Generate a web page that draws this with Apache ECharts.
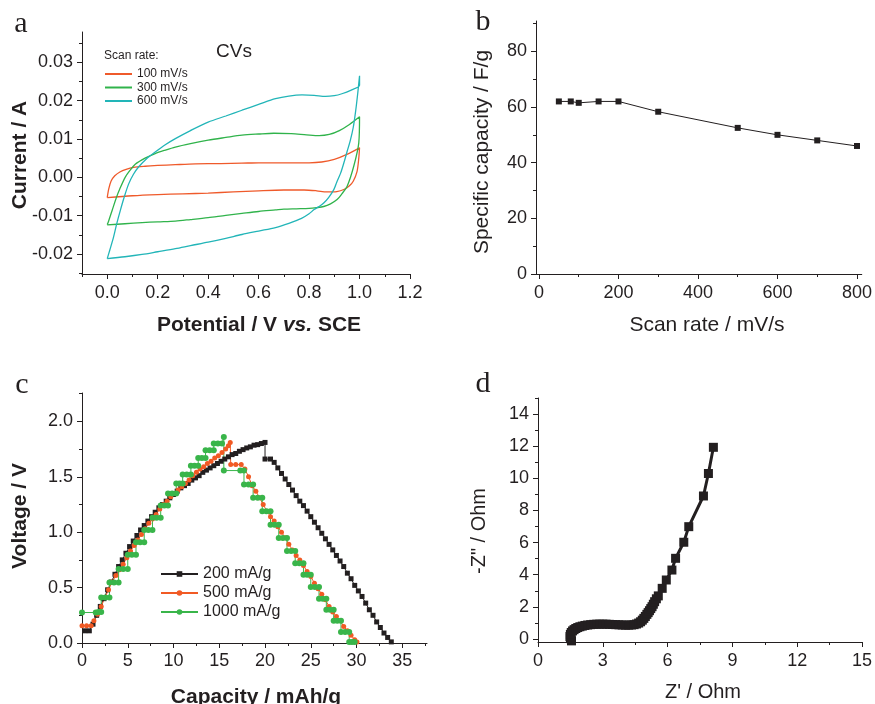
<!DOCTYPE html>
<html>
<head>
<meta charset="utf-8">
<script src="https://cdn.jsdelivr.net/npm/echarts@6/dist/echarts.min.js"></script>
<style>
html, body { margin: 0; padding: 0; background: #fff; }
#main { width: 875px; height: 704px; }
</style>
</head>
<body>
<div id="main"></div>
<script>
// panel a: CVs, [potential V, current A]
var cv100 = [[0.0,-0.0053],[0.006,-0.0030],[0.015,-0.0010],[0.03,0.0004],[0.05,0.0014],[0.075,0.0021],[0.104,0.0026],[0.15,0.0029],[0.2,0.0031],[0.27,0.0033],[0.35,0.0035],[0.45,0.0036],[0.534,0.0037],[0.6,0.0038],[0.7,0.0038],[0.8,0.0038],[0.85,0.0040],[0.9,0.0047],[0.95,0.0060],[1.0,0.0077],
  [0.997,0.0050],[0.99,0.0015],[0.975,-0.0010],[0.96,-0.0022],[0.94,-0.0031],[0.91,-0.0037],[0.87,-0.0038],[0.83,-0.0035],[0.78,-0.0033],[0.7,-0.0033],[0.6,-0.0035],[0.5,-0.0038],[0.4,-0.0041],[0.3,-0.0043],[0.2,-0.0045],[0.1,-0.0048],[0.0,-0.0053]];
var cv300 = [[0.0,-0.0123],[0.005,-0.0115],[0.02,-0.0085],[0.035,-0.0055],[0.05,-0.0030],[0.071,0.0],[0.09,0.0018],[0.111,0.0034],[0.15,0.0050],[0.19,0.0062],[0.23,0.0071],[0.27,0.0079],[0.33,0.0088],[0.40,0.0097],[0.47,0.0104],[0.534,0.0110],[0.6,0.0113],[0.66,0.0115],[0.73,0.0114],[0.79,0.0111],[0.84,0.0109],[0.88,0.0112],[0.92,0.0122],[0.96,0.0138],[1.0,0.0158],
  [0.997,0.0090],[0.977,0.0029],[0.951,-0.0023],[0.93,-0.0043],[0.911,-0.0058],[0.885,-0.0069],[0.858,-0.0076],[0.83,-0.0079],[0.8,-0.0081],[0.75,-0.0082],[0.7,-0.0083],[0.667,-0.0085],[0.6,-0.0089],[0.534,-0.0094],[0.47,-0.0099],[0.4,-0.0105],[0.33,-0.0110],[0.27,-0.0114],[0.2,-0.0116],[0.138,-0.0118],[0.07,-0.0121],[0.0,-0.0124]];
var cv600 = [[0.0,-0.0212],[0.01,-0.0190],[0.025,-0.0156],[0.038,-0.0120],[0.052,-0.0086],[0.068,-0.0050],[0.085,-0.0017],[0.104,0.0008],[0.124,0.0027],[0.155,0.0048],[0.19,0.0066],[0.23,0.0085],[0.27,0.0101],[0.33,0.0122],[0.40,0.0144],[0.47,0.0160],[0.534,0.0175],[0.6,0.0190],[0.667,0.0205],[0.72,0.0212],[0.772,0.0215],[0.82,0.0214],[0.865,0.0211],[0.9,0.0213],[0.93,0.0218],[0.965,0.0227],[1.0,0.0240],[1.0,0.0265],
  [0.993,0.0220],[0.985,0.0175],[0.975,0.0130],[0.963,0.0095],[0.951,0.0068],[0.938,0.0038],[0.925,0.0011],[0.91,-0.0012],[0.898,-0.0032],[0.878,-0.0052],[0.858,-0.0067],[0.84,-0.0076],[0.82,-0.0084],[0.8,-0.0095],[0.77,-0.0107],[0.72,-0.0120],[0.667,-0.0131],[0.6,-0.0140],[0.534,-0.0149],[0.47,-0.0159],[0.4,-0.0169],[0.33,-0.0178],[0.27,-0.0186],[0.2,-0.0194],[0.138,-0.0201],[0.07,-0.0207],[0.0,-0.0212]];

// panel b: specific capacity vs scan rate
var scanRates = [50, 80, 100, 150, 200, 300, 500, 600, 700, 800];
var capacities = [62, 62, 61.5, 62, 62, 58.3, 52.5, 50, 48, 46];

// panel c: charge/discharge, [capacity mAh/g, voltage V]
var gcd200 = [[0.3,0.11],[0.8,0.11],[1.2,0.17],[1.6,0.25],[2.0,0.33],[2.4,0.40],[2.8,0.48],[3.2,0.55],[3.6,0.62],[4.0,0.69],[4.4,0.75],[4.8,0.81],[5.2,0.87],[5.6,0.92],[6.0,0.97],[6.4,1.02],[6.8,1.06],[7.2,1.10],[7.6,1.14],[8.0,1.18],[8.4,1.22],[8.8,1.25],[9.2,1.28],[9.6,1.31],[10.0,1.34],[10.4,1.37],[10.8,1.40],[11.2,1.42],[11.6,1.44],[12.0,1.47],[12.4,1.49],[12.8,1.51],[13.2,1.54],[13.6,1.56],[14.0,1.58],[14.4,1.60],[14.8,1.62],[15.2,1.64],[15.6,1.66],[16.0,1.68],[16.4,1.70],[16.8,1.71],[17.2,1.73],[17.6,1.745],[18.0,1.76],[18.4,1.77],[18.8,1.785],[19.2,1.79],[19.6,1.80],[20.0,1.81],
  [20.0,1.66],[20.6,1.66],[21.0,1.63],[21.4,1.58],[21.8,1.53],[22.2,1.48],[22.6,1.43],[23.0,1.38],[23.4,1.33],[23.8,1.28],[24.2,1.24],[24.6,1.19],[25.0,1.14],[25.4,1.09],[25.8,1.04],[26.2,0.99],[26.6,0.94],[27.0,0.89],[27.4,0.84],[27.8,0.79],[28.2,0.74],[28.6,0.69],[29.0,0.63],[29.4,0.58],[29.8,0.52],[30.2,0.47],[30.6,0.42],[31.0,0.36],[31.4,0.30],[31.8,0.25],[32.2,0.19],[32.6,0.14],[33.0,0.09],[33.4,0.05],[33.8,0.01]];
var gcd500 = [[0.0,0.155],[0.5,0.155],[1.0,0.155],[1.3,0.20],[1.7,0.26],[2.1,0.33],[2.5,0.41],[2.9,0.48],[3.3,0.55],[3.7,0.61],[4.1,0.66],[4.5,0.71],[4.9,0.77],[5.3,0.83],[5.7,0.88],[6.1,0.93],[6.5,0.98],[6.9,1.03],[7.3,1.08],[7.7,1.12],[8.1,1.16],[8.5,1.21],[8.9,1.25],[9.3,1.28],[9.7,1.32],[10.1,1.35],[10.5,1.38],[10.9,1.41],[11.3,1.44],[11.7,1.47],[12.1,1.51],[12.5,1.54],[12.9,1.57],[13.3,1.59],[13.7,1.62],[14.1,1.64],[14.5,1.67],[14.9,1.69],[15.3,1.72],[15.7,1.75],[16.0,1.78],[16.2,1.81],
  [16.25,1.61],[16.8,1.61],[17.4,1.61],[17.8,1.57],[18.2,1.50],[18.6,1.42],[19.0,1.37],[19.4,1.31],[19.8,1.25],[20.2,1.19],[20.6,1.14],[21.0,1.10],[21.4,1.05],[21.8,1.00],[22.2,0.95],[22.6,0.89],[23.0,0.84],[23.4,0.79],[23.8,0.75],[24.2,0.70],[24.6,0.645],[25.0,0.60],[25.4,0.54],[25.8,0.49],[26.2,0.44],[26.6,0.39],[27.0,0.33],[27.4,0.28],[27.8,0.24],[28.2,0.20],[28.6,0.15],[29.0,0.11],[29.4,0.07],[29.8,0.03],[30.05,0.01]];
var gcd1000 = [[0,0.275],[1.5,0.275],[1.8,0.28],[2.1,0.28],
  [2.1,0.41],[2.55,0.41],[3.0,0.41],[3.0,0.546],[3.5,0.546],[4.0,0.546],[4.0,0.667],[4.5,0.667],[5.0,0.667],
  [5.0,0.796],[5.45,0.796],[5.9,0.796],[5.9,0.91],[6.35,0.91],[6.8,0.91],[6.8,1.02],[7.25,1.02],[7.7,1.02],
  [7.7,1.13],[8.15,1.13],[8.6,1.13],[8.6,1.24],[9.0,1.24],[9.4,1.24],[9.4,1.35],[9.85,1.35],[10.3,1.35],
  [10.3,1.44],[10.65,1.44],[11.0,1.44],[11.0,1.52],[11.45,1.52],[11.9,1.52],[11.9,1.60],[12.3,1.60],[12.7,1.60],
  [12.7,1.67],[13.1,1.67],[13.5,1.67],[13.5,1.74],[13.95,1.74],[14.4,1.74],[14.4,1.80],[14.85,1.80],[15.3,1.80],
  [15.5,1.86],[15.5,1.556],[17.3,1.556],[17.7,1.556],
  [17.7,1.43],[18.2,1.43],[18.7,1.43],[18.7,1.31],[19.2,1.31],[19.7,1.31],[19.7,1.19],[20.15,1.19],[20.6,1.19],
  [20.6,1.068],[21.05,1.068],[21.5,1.068],[21.5,0.947],[21.95,0.947],[22.4,0.947],[22.4,0.83],[22.85,0.83],[23.3,0.83],
  [23.3,0.72],[23.75,0.72],[24.2,0.72],[24.2,0.615],[24.6,0.615],[25.0,0.615],[25.0,0.505],[25.45,0.505],[25.9,0.505],
  [25.9,0.40],[26.3,0.40],[26.7,0.40],[26.7,0.30],[27.1,0.30],[27.5,0.30],[27.5,0.20],[27.9,0.20],[28.3,0.20],
  [28.3,0.10],[28.75,0.10],[29.2,0.10],[29.2,0.01],[29.5,0.01],[29.8,0.01]];

// panel d: Nyquist, [Z' Ohm, -Z'' Ohm]
var nyquist = [[1.55,-0.12],[1.5,0.02],[1.48,0.15],[1.5,0.28],[1.54,0.40],[1.6,0.50],[1.67,0.58],[1.75,0.65],[1.84,0.71],[1.94,0.76],[2.05,0.80],[2.17,0.84],[2.3,0.87],[2.44,0.89],[2.58,0.91],[2.72,0.92],[2.86,0.92],[3.0,0.92],[3.15,0.92],[3.3,0.91],[3.45,0.90],[3.6,0.89],[3.75,0.88],[3.9,0.87],[4.05,0.86],[4.2,0.86],[4.33,0.87],[4.45,0.89],[4.56,0.93],[4.66,0.99],[4.75,1.07],[4.83,1.17],[4.9,1.28],[4.97,1.40],[5.04,1.53],[5.1,1.64],[5.16,1.76],[5.22,1.89],[5.28,2.01],[5.34,2.16],[5.4,2.32],[5.48,2.50],[5.57,2.68],[5.75,3.15],[5.94,3.67],[6.2,4.29],[6.37,5.02],[6.75,6.02],[6.98,6.99],[7.66,8.9],[7.89,10.3],[8.12,11.93]];

// tick values
var aXTicks = [0, 0.2, 0.4, 0.6, 0.8, 1.0, 1.2];
var aXMinor = [-0.1, 0.1, 0.3, 0.5, 0.7, 0.9, 1.1];
var aYTicks = [-0.02, -0.01, 0, 0.01, 0.02, 0.03];
var aYMinor = [-0.025, -0.015, -0.005, 0.005, 0.015, 0.025, 0.035];
var bXTicks = [0, 200, 400, 600, 800];
var bXMinor = [100, 300, 500, 700];
var bYTicks = [0, 20, 40, 60, 80];
var bYMinor = [10, 30, 50, 70, 90];
var cXTicks = [0, 5, 10, 15, 20, 25, 30, 35];
var cXMinor = [2.5, 7.5, 12.5, 17.5, 22.5, 27.5, 32.5, 37.5];
var cYTicks = [0, 0.5, 1.0, 1.5, 2.0];
var cYMinor = [0.25, 0.75, 1.25, 1.75, 2.25];
var dXTicks = [0, 3, 6, 9, 12, 15];
var dXMinor = [1.5, 4.5, 7.5, 10.5, 13.5];
var dYTicks = [0, 2, 4, 6, 8, 10, 12, 14];
var dYMinor = [1, 3, 5, 7, 9, 11, 13, 15];

var FONT = '"Liberation Sans", Arial, sans-serif';
var INK = '#231f20';

var myChart = echarts.init(document.getElementById('main'));

// main axis + an overlay axis on the same side that only draws the short minor ticks
function mkAxis(grid, pos, min, max, ticks, minor, fmt, margin) {
	var main = {
		type: 'value', gridIndex: grid, position: pos, min: min, max: max,
		axisLine: { show: true, onZero: false, lineStyle: { color: INK, width: 1 } },
		axisTick: { show: true, inside: false, length: 5, customValues: ticks, lineStyle: { color: INK } },
		axisLabel: { customValues: ticks, formatter: fmt, margin: margin, fontSize: 18, color: INK, fontFamily: FONT },
		splitLine: { show: false }
	};
	var sub = {
		type: 'value', gridIndex: grid, position: pos, min: min, max: max,
		axisLine: { show: false, onZero: false },
		axisTick: { show: true, inside: false, length: 3, customValues: minor, lineStyle: { color: INK } },
		axisLabel: { show: false },
		splitLine: { show: false }
	};
	return [main, sub];
}

var ax = {
	aX: mkAxis(0, 'bottom', -0.1, 1.2, aXTicks, aXMinor, function (v) { return v.toFixed(1); }, 10),
	bX: mkAxis(1, 'bottom', -7.5, 812, bXTicks, bXMinor, function (v) { return String(v); }, 10),
	cX: mkAxis(2, 'bottom', 0, 37.7, cXTicks, cXMinor, function (v) { return String(v); }, 9),
	dX: mkAxis(3, 'bottom', 0, 15, dXTicks, dXMinor, function (v) { return String(v); }, 10),
	aY: mkAxis(0, 'left', -0.0252, 0.0379, aYTicks, aYMinor, function (v) { return v.toFixed(2); }, 9),
	bY: mkAxis(1, 'left', 0, 90.9, bYTicks, bYMinor, function (v) { return String(v); }, 9),
	cY: mkAxis(2, 'left', 0, 2.256, cYTicks, cYMinor, function (v) { return v.toFixed(1); }, 9),
	dY: mkAxis(3, 'left', -0.19, 15, dYTicks, dYMinor, function (v) { return String(v); }, 9)
};

function cvLine(name, data, color) {
	return {
		name: name, type: 'line', xAxisIndex: 0, yAxisIndex: 0, data: data,
		showSymbol: false, symbol: 'none', smooth: 0.3,
		lineStyle: { color: color, width: 1.3 }, itemStyle: { color: color }
	};
}

function gcdLine(name, data, color, symbol, size) {
	return {
		name: name, type: 'line', xAxisIndex: 2, yAxisIndex: 2, data: data,
		symbol: symbol, symbolSize: size,
		lineStyle: { color: color, width: 1 }, itemStyle: { color: color }
	};
}

function title(text, x, y, font, rot) {
	return {
		type: 'text', x: x, y: y, rotation: rot || 0,
		style: { text: text, font: font, fill: INK, textAlign: 'center', textVerticalAlign: 'middle' }
	};
}

var option = {
	animation: false,
	backgroundColor: '#fff',
	grid: [
		{ left: 82, top: 32, width: 328, height: 242 },
		{ left: 536, top: 21, width: 327, height: 253 },
		{ left: 82, top: 393, width: 345, height: 250 },
		{ left: 538, top: 398, width: 325, height: 244 }
	],
	xAxis: [ax.aX[0], ax.bX[0], ax.cX[0], ax.dX[0], ax.aX[1], ax.bX[1], ax.cX[1], ax.dX[1]],
	yAxis: [ax.aY[0], ax.bY[0], ax.cY[0], ax.dY[0], ax.aY[1], ax.bY[1], ax.cY[1], ax.dY[1]],
	legend: [
		{
			data: ['100 mV/s', '300 mV/s', '600 mV/s'],
			orient: 'vertical', left: 100, top: 63,
			icon: 'rect', itemWidth: 27, itemHeight: 2, itemGap: 1.5,
			textStyle: { fontSize: 12, color: INK, fontFamily: FONT }
		},
		{
			data: ['200 mA/g', '500 mA/g', '1000 mA/g'],
			orient: 'vertical', left: 155, top: 561,
			itemWidth: 37, itemHeight: 7, itemGap: 3,
			textStyle: { fontSize: 16, color: INK, fontFamily: FONT }
		}
	],
	series: [
		cvLine('100 mV/s', cv100, '#ef5a2b'),
		cvLine('300 mV/s', cv300, '#30b34b'),
		cvLine('600 mV/s', cv600, '#22b5b8'),
		{
			type: 'line', xAxisIndex: 1, yAxisIndex: 1,
			data: scanRates.map(function (r, i) { return [r, capacities[i]]; }),
			symbol: 'rect', symbolSize: 6,
			lineStyle: { color: INK, width: 1 }, itemStyle: { color: INK }
		},
		gcdLine('200 mA/g', gcd200, INK, 'rect', 5),
		gcdLine('500 mA/g', gcd500, '#f15a24', 'circle', 5),
		gcdLine('1000 mA/g', gcd1000, '#39b54a', 'circle', 6),
		{
			type: 'line', xAxisIndex: 3, yAxisIndex: 3, data: nyquist,
			symbol: 'rect', symbolSize: 9,
			lineStyle: { color: INK, width: 3 }, itemStyle: { color: INK }
		}
	],
	graphic: [
		title('a', 21, 24, '30px "Liberation Serif"'),
		title('b', 483, 22, '30px "Liberation Serif"'),
		title('c', 22, 385, '30px "Liberation Serif"'),
		title('d', 483, 384, '30px "Liberation Serif"'),
		title('CVs', 234, 52, '19px ' + FONT),
		{
			type: 'text', x: 104, y: 56,
			style: { text: 'Scan rate:', font: '12px ' + FONT, fill: INK, textAlign: 'left', textVerticalAlign: 'middle' }
		},
		title('Current / A', 20, 155, 'bold 21px ' + FONT, Math.PI / 2),
		{
			type: 'text', x: 259, y: 325,
			style: {
				text: '{b|Potential / V }{i|vs.}{b| SCE}',
				textAlign: 'center', textVerticalAlign: 'middle', fill: INK,
				rich: {
					b: { fontSize: 21, fontWeight: 'bold', fontFamily: FONT, fill: INK },
					i: { fontSize: 21, fontWeight: 'bold', fontStyle: 'italic', fontFamily: FONT, fill: INK }
				}
			}
		},
		title('Specific capacity / F/g', 482, 152, '21px ' + FONT, Math.PI / 2),
		title('Scan rate / mV/s', 707, 325, '21px ' + FONT),
		title('Voltage / V', 20, 516, 'bold 21px ' + FONT, Math.PI / 2),
		title('Capacity / mAh/g', 256, 697, 'bold 21px ' + FONT),
		title('-Z" / Ohm', 479, 531, '20px ' + FONT, Math.PI / 2),
		title("Z' / Ohm", 703, 692, '20px ' + FONT)
	]
};

myChart.setOption(option);
</script>
</body>
</html>
